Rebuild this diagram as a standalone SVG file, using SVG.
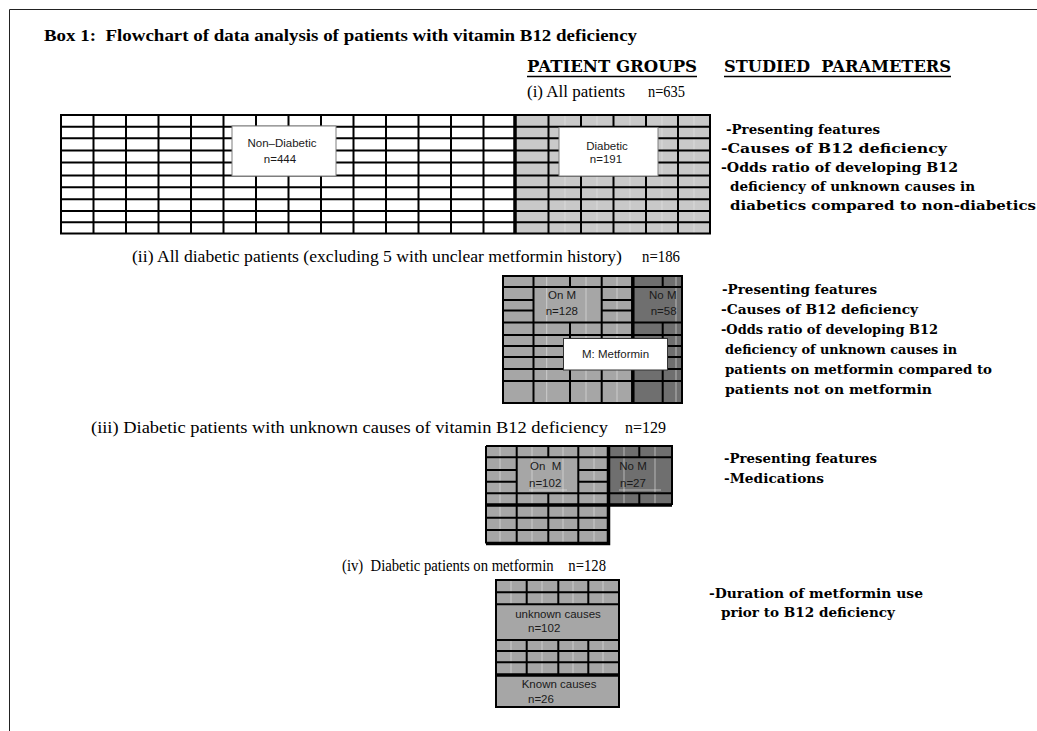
<svg xmlns="http://www.w3.org/2000/svg" width="1037" height="731" viewBox="0 0 1037 731">
  <style>
    .title { font-family: "Liberation Serif", serif; font-weight: bold; font-size: 16px; fill: #000; white-space: pre; }
    .head { font-family: "DejaVu Serif", serif; font-weight: bold; font-size: 16px; fill: #000; white-space: pre; }
    .grp { font-family: "Liberation Serif", serif; font-size: 16px; fill: #000; white-space: pre; }
    .par { font-family: "DejaVu Serif", serif; font-weight: bold; font-size: 13.5px; fill: #000; white-space: pre; }
    .lbl { font-family: "Liberation Sans", Arial, sans-serif; font-size: 11.5px; fill: #1a1a1a; white-space: pre; }
    .grid { fill: none; stroke: #000; stroke-width: 2; }
    .thick { fill: none; stroke: #000; stroke-width: 3.5; }
    .faint { fill: none; stroke: #e6e6e6; stroke-width: 1; opacity: 0.6; }
    .light { fill: #a6a6a6; }
    .dark { fill: #6f6f6f; }
    .pale { fill: #c9c9c9; }
    .labelbox { fill: #fff; stroke: #7f7f7f; stroke-width: 1; }
  </style>

  <!-- page frame -->
  <path d="M9.5 731V9.5H1037" fill="none" stroke="#222" stroke-width="1"/>

  <text class="title" x="44" y="41" textLength="593" lengthAdjust="spacingAndGlyphs">Box 1:  Flowchart of data analysis of patients with vitamin B12 deficiency</text>

  <!-- column headings -->
  <g id="headings">
    <text class="head" x="527" y="72" textLength="170" lengthAdjust="spacingAndGlyphs">PATIENT GROUPS</text>
    <text class="head" x="724" y="72" textLength="227" lengthAdjust="spacingAndGlyphs">STUDIED  PARAMETERS</text>
    <path d="M527 76.5H697M724 76.5H951" stroke="#000" stroke-width="1.6"/>
  </g>

  <!-- (i) all patients -->
  <g id="group-all-patients">
    <text class="grp" x="527" y="97" textLength="98" lengthAdjust="spacingAndGlyphs">(i) All patients</text>
    <text class="grp" x="648" y="97" textLength="37" lengthAdjust="spacingAndGlyphs">n=635</text>
    <rect x="61" y="115" width="455" height="118.5" fill="#fff"/>
    <rect class="pale" x="516" y="115" width="194" height="118.5"/>
    <path class="faint" d="M565 115V233.5M597 115V233.5M630 115V233.5M662 115V233.5M694 115V233.5"/>
    <path class="grid" d="M61 126.7H710M61 138.3H710M61 150.5H710M61 162.5H710M61 175.5H710M61 187.3H710M61 199.3H710M61 211H710M61 222.3H710
      M93.5 115V233.5M126 115V233.5M158.5 115V233.5M191 115V233.5M223.5 115V233.5M256 115V233.5M288.5 115V233.5M321 115V233.5M353.5 115V233.5M386 115V233.5M418.5 115V233.5M451 115V233.5M483.5 115V233.5
      M548.5 115V233.5M581 115V233.5M613.5 115V233.5M646 115V233.5M678 115V233.5"/>
    <rect class="grid" x="61" y="115" width="649" height="118.5" stroke-width="2.5"/>
    <path class="thick" d="M515 115V233.5" stroke-width="4"/>
  </g>

  <g id="node-non-diabetic">
    <rect class="labelbox" x="232" y="126" width="104" height="50"/>
    <text class="lbl" x="282" y="147.3" text-anchor="middle">Non–Diabetic</text>
    <text class="lbl" x="280" y="163.3" text-anchor="middle">n=444</text>
  </g>

  <g id="node-diabetic">
    <rect class="labelbox" x="559" y="127.5" width="99" height="48.5"/>
    <text class="lbl" x="607" y="149.5" text-anchor="middle">Diabetic</text>
    <text class="lbl" x="606" y="163" text-anchor="middle">n=191</text>
  </g>

  <g id="params-all-patients">
    <text class="par" x="726" y="134" textLength="154" lengthAdjust="spacingAndGlyphs">-Presenting features</text>
    <text class="par" x="721" y="153" textLength="226" lengthAdjust="spacingAndGlyphs">-Causes of B12 deficiency</text>
    <text class="par" x="721" y="172" textLength="237" lengthAdjust="spacingAndGlyphs">-Odds ratio of developing B12</text>
    <text class="par" x="730" y="191" textLength="245" lengthAdjust="spacingAndGlyphs">deficiency of unknown causes in</text>
    <text class="par" x="730" y="210" textLength="306" lengthAdjust="spacingAndGlyphs">diabetics compared to non-diabetics</text>
  </g>

  <!-- (ii) diabetic patients split by metformin use -->
  <g id="group-diabetic-metformin">
    <text class="grp" x="132" y="262" textLength="490" lengthAdjust="spacingAndGlyphs">(ii) All diabetic patients (excluding 5 with unclear metformin history)</text>
    <text class="grp" x="642" y="262" textLength="38" lengthAdjust="spacingAndGlyphs">n=186</text>
    <rect class="light" x="503" y="276" width="130" height="127"/>
    <rect class="dark" x="633" y="276" width="49" height="127"/>
    <path class="faint" d="M546.7 276V403M586 276V403M617 276V403M676 276V403"/>
    <path class="grid" d="M503 287H682
      M503 300H533.5M601.7 300H632M503 310.5H533.5M601.7 310.5H632
      M503 322.5H682M503 335H682M503 346H682M503 357H682M503 369H682M503 381H682
      M533.5 276V403M601.7 276V403M570 276V287M570 322.5V403M662.7 276V287M662.7 322.5V403"/>
    <rect class="grid" x="503" y="276" width="179" height="127"/>
    <path class="thick" d="M632.8 276V403" stroke-width="3"/>
  </g>

  <g id="node-on-metformin">
    <text class="lbl" x="548" y="299.3">On M</text>
    <text class="lbl" x="545.7" y="315">n=128</text>
  </g>

  <g id="node-no-metformin">
    <text class="lbl" x="649" y="299.3">No M</text>
    <text class="lbl" x="650.7" y="315">n=58</text>
  </g>

  <g id="node-legend">
    <rect x="563.5" y="338.5" width="104" height="31.5" fill="#fff" stroke="#333" stroke-width="1"/>
    <text class="lbl" x="615.5" y="358" text-anchor="middle">M: Metformin</text>
  </g>

  <g id="params-diabetic-metformin">
    <text class="par" x="722" y="293.5" textLength="155" lengthAdjust="spacingAndGlyphs">-Presenting features</text>
    <text class="par" x="721" y="313.5" textLength="197" lengthAdjust="spacingAndGlyphs">-Causes of B12 deficiency</text>
    <text class="par" x="721" y="333.5" textLength="217" lengthAdjust="spacingAndGlyphs">-Odds ratio of developing B12</text>
    <text class="par" x="725" y="353.5" textLength="232" lengthAdjust="spacingAndGlyphs">deficiency of unknown causes in</text>
    <text class="par" x="725" y="373.5" textLength="267" lengthAdjust="spacingAndGlyphs">patients on metformin compared to</text>
    <text class="par" x="725" y="393.5" textLength="207" lengthAdjust="spacingAndGlyphs">patients not on metformin</text>
  </g>

  <!-- (iii) diabetic patients with unknown causes -->
  <g id="group-unknown-causes">
    <text class="grp" x="91" y="433" textLength="517" lengthAdjust="spacingAndGlyphs">(iii) Diabetic patients with unknown causes of vitamin B12 deficiency</text>
    <text class="grp" x="625" y="433" textLength="41" lengthAdjust="spacingAndGlyphs">n=129</text>
    <rect class="light" x="486" y="446" width="122.5" height="97.5"/>
    <rect class="dark" x="608.5" y="446" width="63.5" height="59.5"/>
    <path class="faint" d="M500 446V543M532 446V543M563 446V543M594 446V543M624 446V505M655 446V505M529 490H567M619 490H661"/>
    <path class="grid" d="M486 457.3H672
      M486 470H516.7M578.3 470H608.5M486 481.7H516.7M578.3 481.7H608.5
      M486 493.3H672M486 517.7H608.5M486 530H608.5
      M516.7 446V543.5M578.3 446V543.5M548.3 446V457.3M548.3 493.3V543.5M639.3 446V457.3M639.3 493.3V505
      M486 446H672V505M486 446V543.5"/>
    <path class="thick" d="M486 505H672M486 543.5H608.5V505M608.5 446V505" stroke-width="3"/>
  </g>

  <g id="node-unknown-on-metformin">
    <text class="lbl" x="530" y="470">On  M</text>
    <text class="lbl" x="529" y="487">n=102</text>
  </g>

  <g id="node-unknown-no-metformin">
    <text class="lbl" x="619.3" y="470">No M</text>
    <text class="lbl" x="620" y="487">n=27</text>
  </g>

  <g id="params-unknown-causes">
    <text class="par" x="724" y="463" textLength="153" lengthAdjust="spacingAndGlyphs">-Presenting features</text>
    <text class="par" x="724" y="483" textLength="100" lengthAdjust="spacingAndGlyphs">-Medications</text>
  </g>

  <!-- (iv) diabetic patients on metformin -->
  <g id="group-on-metformin">
    <text class="grp" x="342" y="571" font-size="14.5" textLength="264" lengthAdjust="spacingAndGlyphs">(iv)  Diabetic patients on metformin    n=128</text>
    <rect class="light" x="496" y="580" width="123" height="127"/>
    <path class="faint" d="M511 580V604.3M542 580V604.3M573 580V604.3M603 580V604.3M511 640V674M542 640V674M573 640V674M603 640V674"/>
    <path class="grid" d="M496 592.3H619M496 604.3H619M496 640H619M496 651H619M496 662.3H619
      M526.7 580V604.3M558.3 580V604.3M588.3 580V604.3M526.7 640V674M558.3 640V674M588.3 640V674"/>
    <rect class="grid" x="496" y="580" width="123" height="127"/>
    <path class="thick" d="M496 675H619" stroke-width="3"/>
  </g>

  <g id="node-unknown-causes">
    <text class="lbl" x="558" y="617.7" text-anchor="middle">unknown causes</text>
    <text class="lbl" x="528" y="632.3">n=102</text>
  </g>

  <g id="node-known-causes">
    <text class="lbl" x="521.7" y="688.3">Known causes</text>
    <text class="lbl" x="528" y="703">n=26</text>
  </g>

  <g id="params-on-metformin">
    <text class="par" x="709" y="598" textLength="214" lengthAdjust="spacingAndGlyphs">-Duration of metformin use</text>
    <text class="par" x="721" y="617" textLength="174" lengthAdjust="spacingAndGlyphs">prior to B12 deficiency</text>
  </g>
</svg>
